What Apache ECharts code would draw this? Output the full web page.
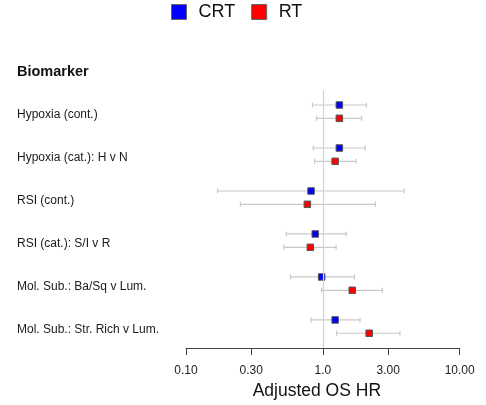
<!DOCTYPE html>
<html>
<head>
<meta charset="utf-8">
<script src="https://cdn.jsdelivr.net/npm/echarts@6/dist/echarts.min.js"></script>
<style>
  html, body { margin: 0; padding: 0; background: #fff; }
  #chart { width: 486px; height: 405px; }
</style>
</head>
<body>
<div id="chart"></div>
<script>
// Adjusted overall-survival hazard ratios by biomarker, CRT vs RT
const header = 'Biomarker';
const biomarkers = [
  'Hypoxia (cont.)',
  'Hypoxia (cat.): H v N',
  'RSI (cont.)',
  'RSI (cat.): S/I v R',
  'Mol. Sub.: Ba/Sq v Lum.',
  'Mol. Sub.: Str. Rich v Lum.'
];

// hazard ratio, lower and upper 95% CI
const crtHR    = [1.32, 1.32, 0.82, 0.88, 0.98, 1.23];
const crtLower = [0.84, 0.85, 0.17, 0.54, 0.58, 0.82];
const crtUpper = [2.08, 2.04, 3.92, 1.48, 1.70, 1.87];

const rtHR     = [1.32, 1.23, 0.77, 0.81, 1.64, 2.18];
const rtLower  = [0.90, 0.87, 0.25, 0.52, 0.98, 1.26];
const rtUpper  = [1.92, 1.75, 2.42, 1.25, 2.72, 3.66];

const tickValues = [0.1, 0.3, 1, 3, 10];
const tickLabels = ['0.10', '0.30', '1.0', '3.00', '10.00'];

// vertical offset of each group within a biomarker row
const groupOffset = { CRT: -0.155, RT: 0.155 };

function rows(hr, lo, hi, off) {
  return hr.map((v, i) => [v, i + off, lo[i], hi[i]]);
}

const crtRows = rows(crtHR, crtLower, crtUpper, groupOffset.CRT);
const rtRows = rows(rtHR, rtLower, rtUpper, groupOffset.RT);

function renderCI(params, api) {
  const y = api.value(1);
  const a = api.coord([api.value(2), y]);
  const b = api.coord([api.value(3), y]);
  const cap = 2.5;
  const style = { stroke: '#c9c9c9', lineWidth: 1.2 };
  return {
    type: 'group',
    children: [
      { type: 'line', shape: { x1: a[0], y1: a[1], x2: b[0], y2: b[1] }, style },
      { type: 'line', shape: { x1: a[0], y1: a[1] - cap, x2: a[0], y2: a[1] + cap }, style },
      { type: 'line', shape: { x1: b[0], y1: b[1] - cap, x2: b[0], y2: b[1] + cap }, style }
    ]
  };
}

function nearestTick(v) {
  let best = 0;
  tickValues.forEach((t, i) => {
    if (Math.abs(Math.log10(t) - Math.log10(v)) < Math.abs(Math.log10(tickValues[best]) - Math.log10(v))) best = i;
  });
  return tickLabels[best];
}

const chart = echarts.init(document.getElementById('chart'));
chart.setOption({
  animation: false,
  textStyle: { fontFamily: "'Liberation Sans', Arial, sans-serif" },
  legend: {
    data: ['CRT', 'RT'],
    left: 171,
    top: 3,
    padding: 0,
    icon: 'rect',
    itemWidth: 15,
    itemHeight: 15,
    itemGap: 16,
    itemStyle: { borderColor: '#666', borderWidth: 1 },
    textStyle: { fontSize: 18, color: '#111', padding: [0, 0, 0, 7] }
  },
  grid: { left: 186, right: 26.3, top: 47.2, bottom: 55.4, containLabel: false },
  xAxis: {
    type: 'log',
    logBase: 10,
    min: 0.1,
    max: 10,
    name: 'Adjusted OS HR',
    nameLocation: 'middle',
    nameGap: 32,
    nameTextStyle: { fontSize: 17.5, color: '#111', padding: [0, 12, 0, 0] },
    axisLine: { show: true, onZero: false, lineStyle: { color: '#444', width: 1 } },
    axisTick: { show: true, length: 7, customValues: tickValues, lineStyle: { color: '#444' } },
    axisLabel: {
      customValues: tickValues,
      margin: 17,
      fontSize: 12,
      color: '#222',
      formatter: v => nearestTick(v)
    },
    splitLine: { show: false },
    minorTick: { show: false }
  },
  yAxis: {
    type: 'value',
    inverse: true,
    min: -1.5,
    max: 5.5,
    axisLine: { show: false },
    axisTick: { show: false },
    splitLine: { show: false },
    axisLabel: {
      customValues: [-1, 0, 1, 2, 3, 4, 5],
      align: 'left',
      margin: 169,
      padding: [6, 0, 0, 0],
      fontSize: 12,
      color: '#1a1a1a',
      formatter: v => v < 0 ? '{h|' + header + '}' : biomarkers[Math.round(v)],
      rich: { h: { fontSize: 14.5, fontWeight: 'bold', color: '#111' } }
    }
  },
  series: [
    {
      name: 'CRT CI', type: 'custom', data: crtRows, renderItem: renderCI, silent: true,
      encode: { x: [0, 2, 3], y: 1 }, z: 1,
      markLine: {
        silent: true, symbol: 'none', label: { show: false },
        lineStyle: { color: '#d3d3d3', width: 1.2, type: 'solid' },
        data: [[{ coord: [1, -0.5] }, { coord: [1, 5.5] }]]
      }
    },
    {
      name: 'RT CI', type: 'custom', data: rtRows, renderItem: renderCI, silent: true,
      encode: { x: [0, 2, 3], y: 1 }, z: 1
    },
    {
      name: 'CRT', type: 'scatter', data: crtRows, symbol: 'rect', symbolSize: 6.5, z: 3,
      itemStyle: { color: '#0000ff', borderColor: '#555', borderWidth: 1, opacity: 1 }
    },
    {
      name: 'RT', type: 'scatter', data: rtRows, symbol: 'rect', symbolSize: 6.5, z: 3,
      itemStyle: { color: '#ff0000', borderColor: '#555', borderWidth: 1, opacity: 1 }
    }
  ]
});
</script>
</body>
</html>
